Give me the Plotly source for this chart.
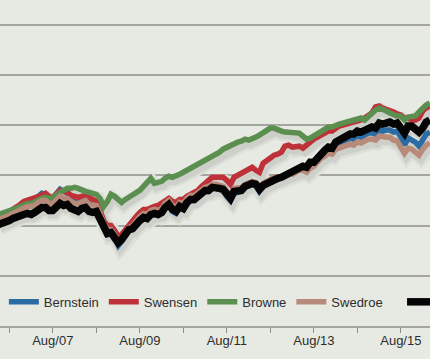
import pandas as pd
import plotly.graph_objects as go

# ---------------- data (growth index) ----------------
dates = pd.date_range("2006-05-01", periods=120, freq="MS")

bernstein = [108,109,111,113,115,117,119,121,122,123,
             125,129,132,130,127,127,132,136,134,132,
             128,126,125,127,128,124,122,121,113,100,
             94,94,88,80,84,90,95,96,101,104,
             107,106,110,111,110,112,117,120,114,112,
             117,116,122,125,125,129,131,134,134,137,
             137,136,135,129,125,132,133,134,138,140,
             141,140,134,139,141,143,146,146,147,149,
             152,152,155,157,157,156,161,161,165,170,
             172,175,174,179,181,182,185,187,186,189,
             188,190,192,192,191,195,194,195,195,193,
             194,188,180,187,185,183,179,185,191,193]

swensen = [109,110,112,114,116,118,121,124,125,126,
           127,129,130,132,129,128,132,135,134,133,
           130,129,128,129,130,128,126,124,115,105,
           100,100,95,89,91,96,101,105,109,113,
           116,116,118,119,120,122,125,127,124,123,
           126,126,129,131,132,135,139,143,145,148,
           148,149,148,145,141,148,150,153,155,157,
           158,155,153,162,165,167,170,171,173,179,
           180,178,178,179,177,180,184,186,188,190,
           192,194,194,197,199,200,201,202,202,204,
           205,207,210,212,218,219,217,216,214,213,
           211,210,207,207,205,205,207,214,217,219]

browne = [111,112,113,114,115,117,119,121,122,122,
          124,126,127,128,127,128,131,133,135,137,
          137,138,137,135,134,133,132,131,127,119,
          124,131,129,125,123,126,128,130,133,135,
          139,144,147,142,143,144,147,149,148,149,
          151,153,155,157,158,160,162,165,167,169,
          170,173,176,178,180,182,183,184,186,185,
          186,188,190,192,194,197,197,195,194,193,
          193,193,192,192,189,186,187,189,192,194,
          196,198,198,200,201,202,203,204,205,206,
          207,205,209,212,215,217,216,214,212,210,
          209,209,205,208,209,209,213,217,220,222]

swedroe = [106,107,108,110,112,114,116,118,119,119,
           120,123,125,125,122,122,126,129,127,127,
           124,122,122,124,125,121,120,120,112,102,
           96,96,91,85,87,93,98,100,105,109,
           112,111,115,116,115,117,122,125,120,118,
           123,122,127,130,130,133,135,138,139,141,
           141,140,139,134,130,137,137,138,141,143,
           144,143,138,142,144,145,148,148,148,149,
           152,151,153,155,155,153,157,159,163,167,
           169,172,171,176,177,178,180,181,180,183,
           182,184,186,186,185,189,188,188,188,185,
           184,179,172,177,176,173,170,176,180,182]

benchmark = [101,102,103,105,107,109,111,111,112,111,
             113,116,118,118,115,115,119,122,120,121,
             117,115,114,117,118,114,113,114,107,97,
             92,93,88,83,86,92,96,97,102,105,
             108,107,111,112,111,113,118,121,116,114,
             119,117,123,126,126,130,132,135,135,138,
             138,137,136,131,127,134,134,135,139,141,
             142,141,136,140,142,144,147,147,148,150,
             153,153,156,158,159,158,163,163,168,173,
             175,178,177,183,185,186,189,191,191,194,
             193,195,198,198,197,202,201,203,203,201,
             202,197,192,199,199,196,193,197,203,205]

series_names = ["Bernstein", "Swensen", "Browne", "Swedroe", "Benchmark"]
series_values = [bernstein, swensen, browne, swedroe, benchmark]
series_colors = ["#2c6ca4", "#bf3139", "#5b8f4f", "#b78a7a", "#050505"]
series_widths = [5.5, 5.5, 5.5, 5.5, 7.5]

tick_dates = ["2006-08-01", "2007-08-01", "2008-08-01", "2009-08-01", "2010-08-01",
              "2011-08-01", "2012-08-01", "2013-08-01", "2014-08-01", "2015-08-01"]
tick_labels = ["", "Aug/07", "", "Aug/09", "", "Aug/11", "", "Aug/13", "", "Aug/15"]

# ---------------- layout constants ----------------
W, H = 430, 359
MB = 33
plot_h = H - MB
x_range = [pd.Timestamp("2006-05-15"), pd.Timestamp("2016-04-02")]
y_range = [0, 324.5]
BG = "#e7e9e3"
GRID = "#a4a5a0"
FONT = "Liberation Sans, Arial, sans-serif"
FS = 13

# shadow offset (pixels) realised through a shifted copy of the axes
days_per_px = (x_range[1] - x_range[0]).days / W
units_per_px = (y_range[1] - y_range[0]) / plot_h
sdx, sdy = 2.0, 4.0
shadow_x_range = [x_range[0] - pd.Timedelta(days=sdx * days_per_px),
                  x_range[1] - pd.Timedelta(days=sdx * days_per_px)]
shadow_y_range = [y_range[0] + sdy * units_per_px, y_range[1] + sdy * units_per_px]

fig = go.Figure()

# shadows (drawn first, on the hidden shifted axes)
for width, col in [(13, "#dcdfd8"), (8, "#cdd0c8")]:
    for vals in series_values:
        fig.add_trace(go.Scatter(x=dates, y=vals, mode="lines", xaxis="x", yaxis="y",
                                 line=dict(color=col, width=width),
                                 showlegend=False, hoverinfo="skip"))

# main lines
for i, (name, vals, col, w) in enumerate(zip(series_names, series_values,
                                                series_colors, series_widths)):
    fig.add_trace(go.Scatter(x=dates, y=vals, mode="lines", name=name,
                             xaxis="x2", yaxis="y2",
                             line=dict(color=col, width=w),
                             legend="legend2" if i == 4 else "legend"))

legend_common = dict(orientation="h", yanchor="middle", y=0.074,
                     xanchor="left", bgcolor="rgba(0,0,0,0)", borderwidth=0,
                     font=dict(family=FONT, size=FS, color="#2e2e2e"),
                     itemwidth=30)

fig.update_layout(
    width=W, height=H,
    margin=dict(l=0, r=0, t=0, b=MB, pad=0, autoexpand=False),
    paper_bgcolor=BG, plot_bgcolor=BG,
    font=dict(family=FONT, size=FS, color="#2e2e2e"),
    xaxis=dict(range=shadow_x_range, visible=False, type="date"),
    yaxis=dict(range=shadow_y_range, visible=False),
    xaxis2=dict(range=x_range, type="date", overlaying="x", anchor="y2",
                tickvals=tick_dates, ticktext=tick_labels,
                ticks="outside", ticklen=5, tickwidth=1, tickcolor="#8d8e89",
                ticklabelstandoff=-3,
                showgrid=False, zeroline=False,
                showline=True, linecolor=GRID, linewidth=1.5,
                tickfont=dict(family=FONT, size=FS, color="#2e2e2e")),
    yaxis2=dict(range=y_range, overlaying="y", anchor="x2",
                tick0=0, dtick=50, showgrid=True, gridcolor=GRID, gridwidth=1.5,
                showticklabels=False, zeroline=False, ticks=""),
    legend=dict(x=0.009, **legend_common),
    legend2=dict(x=0.935, **legend_common),
    showlegend=True,
)

fig.write_html("out.html",
               config={"displayModeBar": False},
               post_script="document.body.style.margin='0';"
                           "document.body.style.background='" + BG + "';")
